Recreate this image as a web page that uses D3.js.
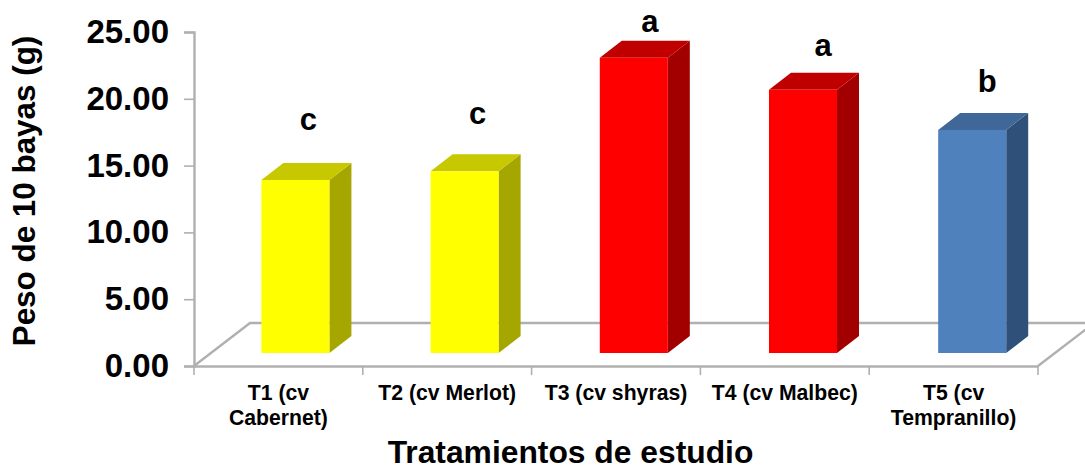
<!DOCTYPE html>
<html lang="es">
<head>
<meta charset="utf-8">
<script src="https://cdn.jsdelivr.net/npm/d3@7"></script>
<style>
  html, body { margin: 0; padding: 0; background: #fff; }
  svg { display: block; }
  text { font-family: "Liberation Sans", Arial, sans-serif; font-weight: bold; fill: #000; }
</style>
</head>
<body>
<svg id="chart" width="1085" height="465"></svg>
<script>
// Mean weight of 10 berries per treatment, with significance letters
const categories = ["T1", "T2", "T3", "T4", "T5"];
const categoryLines = [
  ["T1 (cv", "Cabernet)"],
  ["T2 (cv Merlot)"],
  ["T3 (cv shyras)"],
  ["T4 (cv Malbec)"],
  ["T5 (cv", "Tempranillo)"]
];
const weights = [12.95, 13.6, 22.1, 19.7, 16.7];
const letters = ["c", "c", "a", "a", "b"];
const letterLevels = [17.65, 18.1, 25.0, 23.2, 20.5];
const tickValues = [0, 5, 10, 15, 20, 25];
const yTitle = "Peso de 10 bayas (g)";
const xTitle = "Tratamientos de estudio";

const palette = {
  yellow: { front: "#ffff00", top: "#c8c800", side: "#a6a600" },
  red: { front: "#ff0000", top: "#c00000", side: "#a20000" },
  blue: { front: "#4f81bd", top: "#3f6797", side: "#2f5078" }
};
const barColours = ["yellow", "yellow", "red", "red", "blue"];

const plot = { left: 194, right: 1038, top: 32, bottom: 366 };
const floorDepth = { dx: 56, dy: -43 };   // oblique offset of the chart floor
const barInset = { dx: 17, dy: -13 };     // where a bar's front face stands on the floor
const barDepth = { dx: 22, dy: -17 };     // extrusion of each bar
const letterNudge = [13, 13, 16, 20, 15];
const axisGrey = "#b0b0b0";

const svg = d3.select("#chart");
const x = d3.scaleBand().domain(categories).range([plot.left, plot.right]);
const y = d3.scaleLinear().domain([0, 25]).range([plot.bottom, plot.top]);
const barWidth = x.bandwidth() * 0.403;
// Bars drift slightly right of the band centres towards the far end of the axis
const barX = (c, i) => x(c) + (x.bandwidth() - barWidth) / 2 + barInset.dx + i * 0.4;

// Floor of the 3D plot: diagonal edges and the back line
const floorPath = d3.path();
floorPath.moveTo(plot.left, plot.bottom);
floorPath.lineTo(plot.left + floorDepth.dx, plot.bottom + floorDepth.dy);
floorPath.lineTo(plot.right + floorDepth.dx, plot.bottom + floorDepth.dy);
floorPath.lineTo(plot.right, plot.bottom);
svg.append("path")
  .attr("d", floorPath.toString())
  .attr("fill", "none")
  .attr("stroke", axisGrey)
  .attr("stroke-width", 2.4);

// Axes
const yAxis = d3.axisLeft(y)
  .tickValues(tickValues)
  .tickFormat(d3.format(".2f"))
  .tickSize(10)
  .tickPadding(15);
const xAxis = d3.axisBottom(x).tickSize(0).tickFormat("");

const gx = svg.append("g")
  .attr("transform", `translate(0,${plot.bottom})`)
  .call(xAxis);
gx.select(".domain").attr("stroke", axisGrey).attr("stroke-width", 2.4);

// Tick marks sit on the band boundaries, not at the band centres
gx.selectAll("line.edge")
  .data(categories.map(c => x(c)).concat([plot.right]))
  .join("line")
  .attr("class", "edge")
  .attr("x1", d => d).attr("x2", d => d)
  .attr("y1", 0).attr("y2", 9)
  .attr("stroke", axisGrey)
  .attr("stroke-width", 1.6);

const gy = svg.append("g")
  .attr("transform", `translate(${plot.left},0)`)
  .call(yAxis);
gy.select(".domain").attr("stroke", axisGrey).attr("stroke-width", 2.4);
gy.selectAll(".tick line").attr("stroke", axisGrey).attr("stroke-width", 1.6);
gy.selectAll(".tick text")
  .style("font-size", "33px")
  .style("font-family", '"Liberation Sans", Arial, sans-serif')
  .style("font-weight", "bold")
  .attr("fill", "#000");

// Extruded bars: side, top, then front face
const bars = svg.append("g").selectAll("g")
  .data(categories.map((c, i) => ({ c, i, v: weights[i], tone: palette[barColours[i]] })))
  .join("g");

const frontTop = d => y(d.v) + barInset.dy;
const frontBottom = plot.bottom + barInset.dy;

bars.append("path")
  .attr("fill", d => d.tone.side)
  .attr("d", d => {
    const r = barX(d.c, d.i) + barWidth;
    return `M${r},${frontTop(d)}l${barDepth.dx},${barDepth.dy}` +
      `V${frontBottom + barDepth.dy}L${r},${frontBottom}Z`;
  });
bars.append("path")
  .attr("fill", d => d.tone.top)
  .attr("d", d => {
    const l = barX(d.c, d.i);
    return `M${l},${frontTop(d)}l${barDepth.dx},${barDepth.dy}` +
      `h${barWidth}l${-barDepth.dx},${-barDepth.dy}Z`;
  });
bars.append("rect")
  .attr("fill", d => d.tone.front)
  .attr("x", d => barX(d.c, d.i))
  .attr("y", d => frontTop(d))
  .attr("width", barWidth)
  .attr("height", d => frontBottom - frontTop(d));

// Significance letters above the bars
svg.append("g").selectAll("text")
  .data(letters)
  .join("text")
  .attr("x", (d, i) => barX(categories[i], i) + barWidth / 2 + letterNudge[i])
  .attr("y", (d, i) => y(letterLevels[i]))
  .attr("text-anchor", "middle")
  .style("font-size", "31px")
  .text(d => d);

// Category labels, one or two lines each
const catLabels = svg.append("g").selectAll("text")
  .data(categories)
  .join("text")
  .attr("text-anchor", "middle")
  .style("font-size", "21.2px")
  .attr("transform", d => `translate(${x(d) + x.bandwidth() / 2},400)`);
catLabels.selectAll("tspan")
  .data((d, i) => categoryLines[i])
  .join("tspan")
  .attr("x", 0)
  .attr("y", (d, i) => i * 25)
  .text(d => d);

// Axis titles
svg.append("text")
  .attr("x", 570.5).attr("y", 462.5)
  .attr("text-anchor", "middle")
  .style("font-size", "31.8px")
  .text(xTitle);
svg.append("text")
  .attr("transform", "translate(35,191) rotate(-90)")
  .attr("text-anchor", "middle")
  .style("font-size", "31.4px")
  .text(yTitle);
</script>
</body>
</html>
